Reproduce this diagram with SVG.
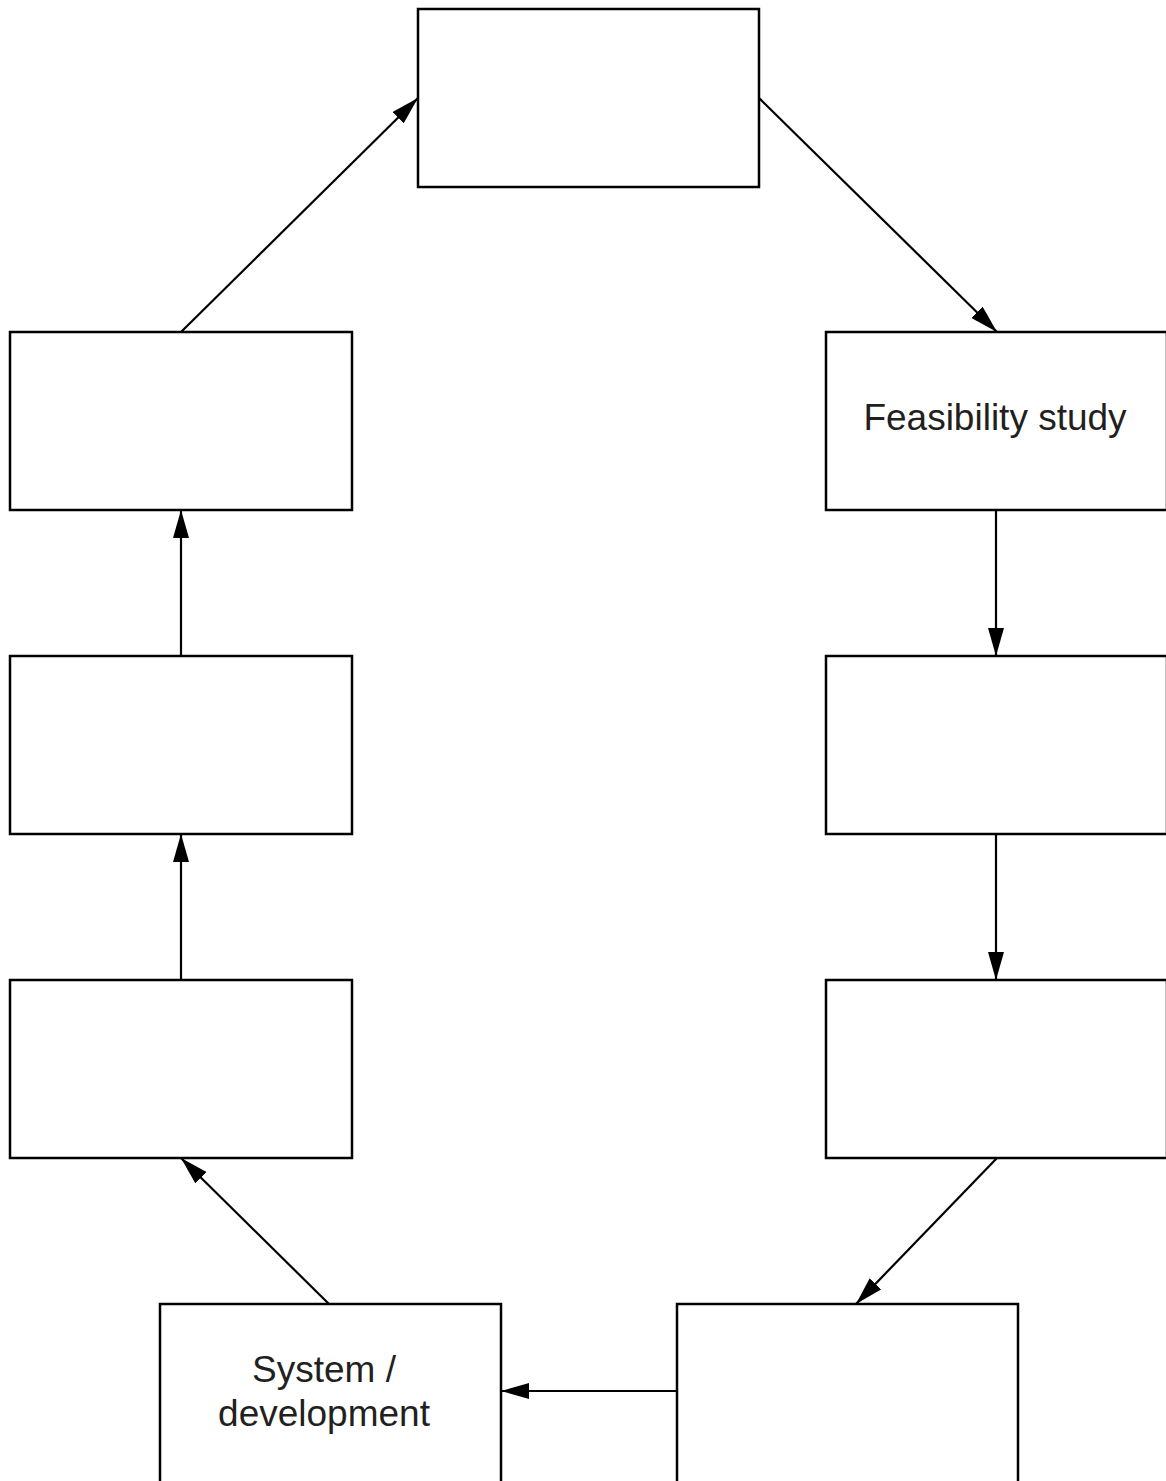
<svg xmlns="http://www.w3.org/2000/svg" width="1166" height="1481" viewBox="0 0 1166 1481">
<style>
.box{fill:#fff;stroke:#000;stroke-width:2.5}
.con{stroke:#000;stroke-width:2.2;fill:none;marker-end:url(#ah)}
.lbl{font-family:"Liberation Sans",Arial,sans-serif;font-size:37px;fill:#231f20;text-anchor:middle}
</style>
<defs>
<marker id="ah" markerUnits="userSpaceOnUse" markerWidth="30" markerHeight="18" refX="28" refY="8" orient="auto">
<path d="M0,0 L28,8 L0,16 Z" fill="#000"/>
</marker>
</defs>
<rect width="1166" height="1481" fill="#fff"/>
<g id="connectors">
<line class="con" x1="181" y1="332" x2="418" y2="98"/>
<line class="con" x1="759" y1="98" x2="997" y2="332"/>
<line class="con" x1="996" y1="510" x2="996" y2="656"/>
<line class="con" x1="996" y1="834" x2="996" y2="980"/>
<line class="con" x1="997" y1="1158" x2="856" y2="1304"/>
<line class="con" x1="677" y1="1391" x2="501" y2="1391"/>
<line class="con" x1="329" y1="1304" x2="181" y2="1158"/>
<line class="con" x1="181" y1="980" x2="181" y2="834"/>
<line class="con" x1="181" y1="656" x2="181" y2="510"/>
</g>
<g id="top"><rect class="box" x="418" y="9" width="341" height="178"/></g>
<g id="feasibility"><rect class="box" x="826" y="332" width="341" height="178"/>
<text class="lbl" x="995" y="430">Feasibility study</text></g>
<g id="right2"><rect class="box" x="826" y="656" width="341" height="178"/></g>
<g id="right3"><rect class="box" x="826" y="980" width="341" height="178"/></g>
<g id="bottomright"><rect class="box" x="677" y="1304" width="341" height="180"/></g>
<g id="system"><rect class="box" x="160" y="1304" width="341" height="180"/>
<text class="lbl" x="324" y="1382">System /</text>
<text class="lbl" x="324" y="1426">development</text></g>
<g id="left3"><rect class="box" x="10" y="980" width="342" height="178"/></g>
<g id="left2"><rect class="box" x="10" y="656" width="342" height="178"/></g>
<g id="left1"><rect class="box" x="10" y="332" width="342" height="178"/></g>
</svg>
